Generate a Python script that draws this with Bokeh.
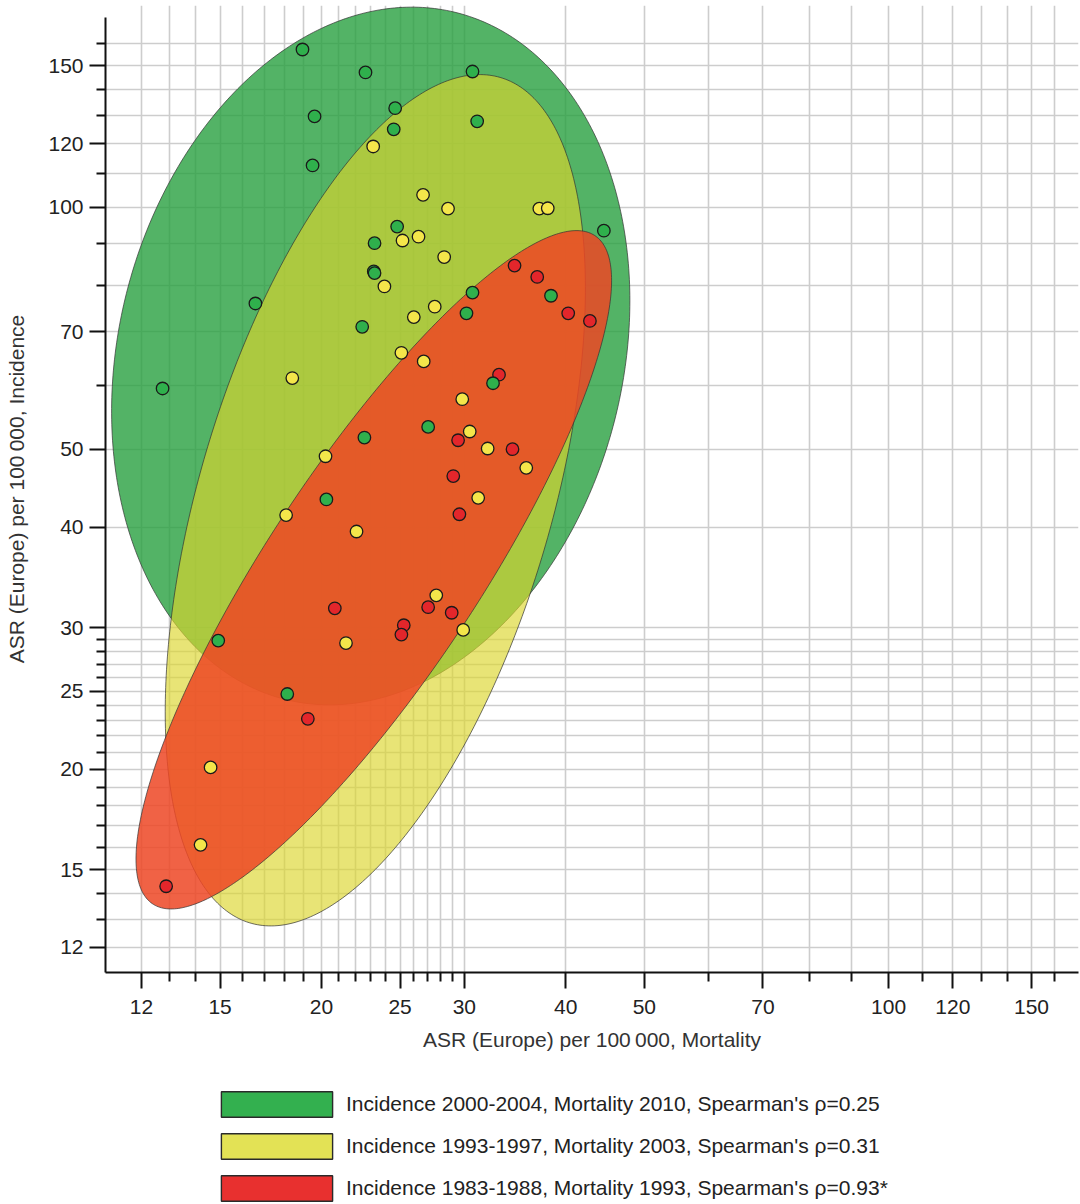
import numpy as np
from bokeh.plotting import figure
from bokeh.layouts import column
from bokeh.models import (FixedTicker, PrintfTickFormatter, Legend, LegendItem, Range1d)
from bokeh.embed import file_html
from bokeh.resources import INLINE

FONT = "Liberation Sans"

# ---------------- data: ASR (Europe) per 100 000 ----------------
# Incidence 2000-2004 vs Mortality 2010
green_mort = [18.95, 22.66, 30.70, 19.61, 31.11, 24.65, 24.55, 19.50, 24.79, 23.25,
              23.20, 23.25, 44.57, 16.58, 30.70, 38.36, 30.18, 22.45, 12.74, 32.54,
              27.07, 22.59, 20.28, 14.92, 18.15]
green_inc = [157.1, 147.1, 147.5, 129.7, 127.9, 132.8, 125.0, 112.7, 94.6, 90.2,
             83.2, 82.8, 93.5, 75.9, 78.3, 77.6, 73.8, 71.0, 59.5, 60.4,
             53.3, 51.7, 43.3, 28.9, 24.8]

# Incidence 1993-1997 vs Mortality 2003
yellow_mort = [23.16, 26.68, 28.64, 37.11, 38.01, 25.17, 26.34, 28.33, 23.91, 27.58,
               25.99, 18.41, 25.09, 26.73, 29.82, 30.46, 32.05, 20.23, 35.76, 31.20,
               18.09, 22.09, 27.70, 29.90, 21.44, 14.60, 14.19]
yellow_inc = [119.0, 103.6, 99.6, 99.6, 99.7, 90.9, 91.9, 86.7, 79.7, 75.2,
              73.0, 61.3, 65.9, 64.3, 57.7, 52.6, 50.1, 49.0, 47.4, 43.5,
              41.4, 39.5, 32.9, 29.8, 28.7, 20.1, 16.1]

# Incidence 1983-1988 vs Mortality 1993
red_mort = [34.59, 36.89, 40.28, 42.84, 33.10, 29.47, 34.39, 29.07, 29.58, 20.77,
            27.07, 28.94, 25.26, 25.09, 19.24, 12.87]
red_inc = [84.6, 81.9, 73.8, 72.2, 61.9, 51.3, 50.0, 46.3, 41.5, 31.7,
           31.8, 31.3, 30.2, 29.4, 23.1, 14.3]

# ellipse summaries: centre (data units), semi-axes (log10 decades), angle (deg, log-log space)
ell_centre_mort = [23.0, 23.3, 23.2]
ell_centre_inc = [65.3, 43.2, 35.4]
ell_major = [0.440, 0.548, 0.497]
ell_minor = [0.311, 0.217, 0.130]
ell_angle = [76.5, 73.7, 56.8]

legend_labels = [
    "Incidence 2000-2004, Mortality 2010, Spearman's \u03c1=0.25",
    "Incidence 1993-1997, Mortality 2003, Spearman's \u03c1=0.31",
    "Incidence 1983-1988, Mortality 1993, Spearman's \u03c1=0.93*",
]

major_ticks = [12, 15, 20, 25, 30, 40, 50, 70, 100, 120, 150]
minor_ticks = [13, 14, 16, 17, 18, 19, 21, 22, 23, 24, 26, 27, 28, 29,
               60, 80, 90, 110, 130, 140, 160]
grid_values = list(range(12, 31)) + [40, 50, 60, 70, 80, 90, 100, 110, 120, 130, 140, 150, 160]

x_label = "ASR (Europe) per 100\u2009000, Mortality"
y_label = "ASR (Europe) per 100\u2009000, Incidence"

# axis extents
x_lo, x_hi = 10.835, 171.4
y_lo, y_hi = 11.17, 172.2

# ---------------- styles ----------------
ell_fill = ["#28a040", "#dcd62d", "#ed4724"]
ell_alpha = [0.80, 0.65, 0.85]
pt_fill = ["#2fb04c", "#f4e64a", "#e3262b"]
leg_fill = ["#33b04f", "#e3e255", "#e8302f"]

p = figure(width=1080, height=1072, x_axis_type="log", y_axis_type="log",
           x_range=Range1d(x_lo, x_hi), y_range=Range1d(y_lo, 178.2),
           output_backend="svg", toolbar_location=None,
           min_border_left=105, min_border_right=2, min_border_top=5, min_border_bottom=100)
p.outline_line_color = None
p.background_fill_color = "white"

for ax in (p.xaxis[0], p.yaxis[0]):
    ax.ticker = FixedTicker(ticks=major_ticks, minor_ticks=minor_ticks)
    ax.formatter = PrintfTickFormatter(format="%d")
    ax.axis_line_width = 2
    ax.axis_line_color = "#111111"
    ax.major_tick_line_width = 2
    ax.minor_tick_line_width = 2
    ax.major_tick_line_color = "#111111"
    ax.minor_tick_line_color = "#111111"
    ax.major_tick_in = 0
    ax.major_tick_out = 16
    ax.minor_tick_in = 0
    ax.minor_tick_out = 9
    ax.major_label_text_font = FONT
    ax.major_label_text_font_size = "21px"
    ax.major_label_text_color = "#222222"
    ax.axis_label_text_font = FONT
    ax.axis_label_text_font_size = "21px"
    ax.axis_label_text_font_style = "normal"
    ax.axis_label_text_color = "#333333"

p.yaxis.bounds = (y_lo, y_hi)
p.xaxis.major_label_standoff = 11
p.yaxis.major_label_standoff = 6
p.xaxis.axis_label = x_label
p.yaxis.axis_label = y_label
p.xaxis.axis_label_standoff = 11
p.yaxis.axis_label_standoff = 17

p.xgrid.ticker = FixedTicker(ticks=grid_values)
p.ygrid.ticker = FixedTicker(ticks=grid_values)
p.xgrid.bounds = (y_lo, y_hi)
for g in (p.xgrid[0], p.ygrid[0]):
    g.grid_line_color = "#cdcdcd"
    g.grid_line_width = 1.6

# ellipses (drawn in log-log space)
t = np.linspace(0, 2 * np.pi, 400)
for i in range(3):
    th = np.radians(ell_angle[i])
    lx = np.log10(ell_centre_mort[i]) + ell_major[i] * np.cos(t) * np.cos(th) - ell_minor[i] * np.sin(t) * np.sin(th)
    ly = np.log10(ell_centre_inc[i]) + ell_major[i] * np.cos(t) * np.sin(th) + ell_minor[i] * np.sin(t) * np.cos(th)
    p.patch(list(10 ** lx), list(10 ** ly), fill_color=ell_fill[i], fill_alpha=ell_alpha[i],
            line_color="#333333", line_alpha=0.7, line_width=1)

# points: red, yellow, then green on top
series = [(red_mort, red_inc, pt_fill[2]), (yellow_mort, yellow_inc, pt_fill[1]),
          (green_mort, green_inc, pt_fill[0])]
for xs, ys, c in series:
    p.scatter(xs, ys, size=12.5, fill_color=c, line_color="#1a1a1a", line_width=1.3)

# ---------------- legend strip ----------------
lg = figure(width=1080, height=132, x_range=Range1d(0, 1), y_range=Range1d(0, 1),
            output_backend="svg", toolbar_location=None,
            x_axis_location=None, y_axis_location=None,
            min_border_left=0, min_border_right=0, min_border_top=0, min_border_bottom=0)
lg.outline_line_color = None
lg.xgrid.visible = False
lg.ygrid.visible = False

nan = np.array([np.nan])
items = []
for i in range(3):
    # placeholder renderer (no visible mark) that only supplies the legend swatch
    r = lg.quad(left=nan, right=nan, top=nan, bottom=nan, fill_color=leg_fill[i],
                line_color="#2a2a2a", line_width=1.4)
    items.append(LegendItem(label=legend_labels[i], renderers=[r]))

legend = Legend(items=items, location=(102, 0), orientation="vertical",
                glyph_width=139, glyph_height=32, label_height=32, spacing=10,
                label_standoff=-6, padding=0, margin=0,
                border_line_color=None, background_fill_alpha=0,
                label_text_font=FONT, label_text_font_size="21px",
                label_text_color="#222222")
lg.add_layout(legend, "center")

layout = column(p, lg, spacing=0)
open("out.html", "w", encoding="utf-8").write(file_html(layout, INLINE))
